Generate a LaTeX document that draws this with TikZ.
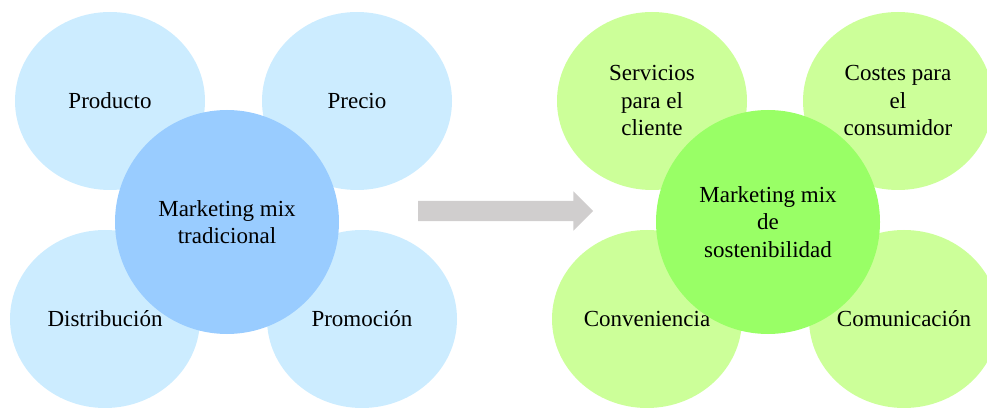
\documentclass[tikz,border=0pt]{standalone}
\usepackage{fontspec}
\setmainfont{Liberation Serif}
\usetikzlibrary{shapes.geometric,shapes.arrows}
\definecolor{petalblue}{HTML}{CCECFF}
\definecolor{coreblue}{HTML}{99CCFF}
\definecolor{petalgreen}{HTML}{CCFF99}
\definecolor{coregreen}{HTML}{99FF66}
\definecolor{shiftgray}{HTML}{D0CECE}
\tikzset{
  basic/.style = {inner sep=0pt, align=center, font=\fontsize{23}{27.5}\selectfont},
  petal/.style = {basic, ellipse, minimum width=190pt, minimum height=178pt},
  core/.style  = {basic, circle, minimum size=224pt},
  bigarrow/.style = {single arrow, fill=shiftgray, inner sep=0pt, text height=20pt,
                  minimum height=175pt, single arrow head extend=9.5pt}
}

\begin{document}
\begin{tikzpicture}[x=1pt, y=1pt]
\useasboundingbox (0,0) rectangle (987,407);

% centros de los dos grupos
\coordinate (tc) at (227,185);
\coordinate (sc) at (768,185);

% marketing mix tradicional
\begin{scope}[every node/.style={petal, fill=petalblue}]
\node [xshift=-117pt, yshift=121pt] (t1) at (tc) {Producto};
\node [xshift=130pt, yshift=121pt] (t2) at (tc) {Precio};
\node [xshift=-122pt, yshift=-97pt] (t3) at (tc) {Distribución};
\node [xshift=135pt, yshift=-97pt] (t4) at (tc) {Promoción};
\end{scope}
\node[core, fill=coreblue] (tm) at (tc) {Marketing mix\\ tradicional};

% marketing mix de sostenibilidad
\begin{scope}[every node/.style={petal, fill=petalgreen}]
\node [xshift=-116pt, yshift=121pt] (s1) at (sc) {Servicios\\ para el\\ cliente};
\node [xshift=130pt, yshift=121pt] (s2) at (sc) {Costes para\\ el\\ consumidor};
\node [xshift=-121pt, yshift=-97pt] (s3) at (sc) {Conveniencia};
\node [xshift=136pt, yshift=-97pt] (s4) at (sc) {Comunicación};
\end{scope}
\node[core, fill=coregreen] (sm) at (sc) {Marketing mix\\ de\\ sostenibilidad};

% flecha entre ambos
\node[bigarrow] (paso) at (500.5,196) {};

\end{tikzpicture}
\end{document}
